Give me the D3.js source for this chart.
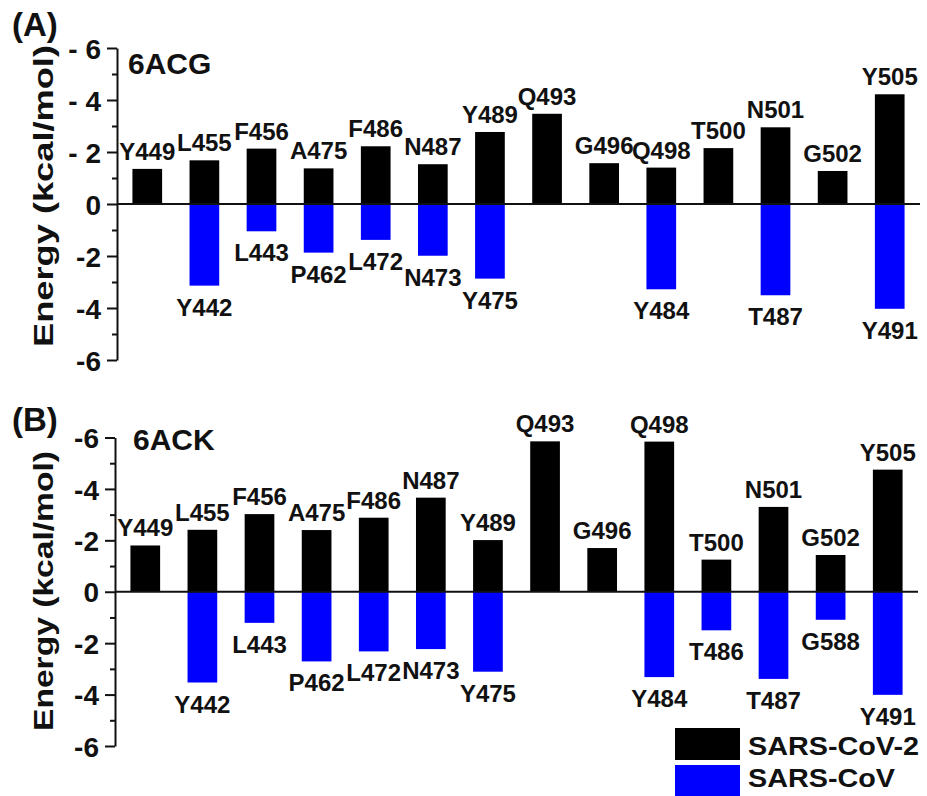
<!DOCTYPE html>
<html>
<head>
<meta charset="utf-8">
<script src="https://cdn.jsdelivr.net/npm/d3@7"></script>
<style>
  body { margin: 0; background: #fff; }
  text { font-family: "Liberation Sans", Arial, sans-serif; font-weight: bold; fill: #111; }
</style>
</head>
<body>
<svg id="chart"></svg>
<script>
// residues of SARS-CoV-2 (same order in both panels)
const residues = ["Y449","L455","F456","A475","F486","N487","Y489","Q493","G496","Q498","T500","N501","G502","Y505"];

// panel A, 6ACG
const acgCov2 = [1.35, 1.68, 2.13, 1.37, 2.22, 1.53, 2.77, 3.47, 1.57, 1.40, 2.15, 2.95, 1.27, 4.22];
const acgCovRes = [null, "Y442", "L443", "P462", "L472", "N473", "Y475", null, null, "Y484", null, "T487", null, "Y491"];
const acgCov = [null, -3.14, -1.05, -1.87, -1.38, -1.99, -2.87, null, null, -3.28, null, -3.51, null, -4.03];

// panel B, 6ACK
const ackCov2 = [1.80, 2.41, 3.02, 2.40, 2.88, 3.66, 2.01, 5.85, 1.70, 5.84, 1.25, 3.30, 1.43, 4.75];
const ackCovRes = [null, "Y442", "L443", "P462", "L472", "N473", "Y475", null, null, "Y484", "T486", "T487", "G588", "Y491"];
const ackCov = [null, -3.53, -1.21, -2.71, -2.32, -2.23, -3.11, null, null, -3.32, -1.50, -3.39, -1.09, -4.01];

// tick labels as printed in the figure
const tickValues = [6, 4, 2, 0, -2, -4, -6];
const acgTickLabels = ["- 6", "- 4", "- 2", "0", "-2", "-4", "-6"];
const ackTickLabels = ["-6", "-4", "-2", "0", "-2", "-4", "-6"];

const seriesNames = ["SARS-CoV-2", "SARS-CoV"];
const seriesColors = ["#000000", "#0000ff"];

const width = 927, height = 796;
const svg = d3.select("#chart").attr("width", width).attr("height", height);

function drawPanel(p) {
    const g = svg.append("g");

    const x = d3.scaleBand()
        .domain(residues)
        .range([p.left, p.right])
        .paddingInner(0.48)
        .paddingOuter(0.27);

    const y = d3.scaleLinear()
        .domain([-6, 6])
        .range([p.bottom, p.top]);

    // minor ticks
    g.append("g")
        .attr("transform", `translate(${p.left},0)`)
        .call(d3.axisLeft(y).tickValues([5, 3, 1, -1, -3, -5]).tickSize(5).tickFormat(""))
        .call(a => a.select(".domain").remove())
        .selectAll("line").attr("stroke", "#111").attr("stroke-width", 2);

    // major ticks + labels
    const axis = g.append("g")
        .attr("transform", `translate(${p.left},0)`)
        .call(d3.axisLeft(y)
            .tickValues(tickValues)
            .tickSize(10)
            .tickSizeOuter(0)
            .tickPadding(6)
            .tickFormat((d, i) => p.tickLabels[i]));
    axis.select(".domain").attr("stroke", "#111").attr("stroke-width", 2);
    axis.selectAll(".tick line").attr("stroke", "#111").attr("stroke-width", 2);
    axis.selectAll(".tick text")
        .style("font-size", "28px")
        .attr("fill", "#111")
        .attr("dy", "0.36em");

    // SARS-CoV bars (down)
    const idx = d3.range(residues.length);
    g.selectAll(".cov")
        .data(idx.filter(i => p.cov[i] != null))
        .enter().append("rect")
        .attr("x", i => x(residues[i]))
        .attr("y", y(0))
        .attr("width", x.bandwidth())
        .attr("height", i => y(p.cov[i]) - y(0))
        .attr("fill", seriesColors[1]);

    // SARS-CoV-2 bars (up)
    g.selectAll(".cov2")
        .data(idx)
        .enter().append("rect")
        .attr("x", i => x(residues[i]))
        .attr("y", i => y(p.cov2[i]))
        .attr("width", x.bandwidth())
        .attr("height", i => y(0) - y(p.cov2[i]))
        .attr("fill", seriesColors[0]);

    // zero line
    g.append("line")
        .attr("x1", p.left).attr("x2", p.right)
        .attr("y1", y(0)).attr("y2", y(0))
        .attr("stroke", "#111").attr("stroke-width", 2);

    // residue labels
    g.selectAll(".lab2")
        .data(idx)
        .enter().append("text")
        .attr("x", i => x(residues[i]) + x.bandwidth() / 2)
        .attr("y", i => y(p.cov2[i]) - 9)
        .attr("text-anchor", "middle")
        .style("font-size", "24px")
        .text(i => residues[i]);

    g.selectAll(".lab1")
        .data(idx.filter(i => p.cov[i] != null))
        .enter().append("text")
        .attr("x", i => x(residues[i]) + x.bandwidth() / 2)
        .attr("y", i => y(p.cov[i]) + 30)
        .attr("text-anchor", "middle")
        .style("font-size", "24px")
        .text(i => p.covRes[i]);

    // y title
    g.append("text")
        .attr("transform", `translate(53,${p.titleY}) rotate(-90)`)
        .attr("text-anchor", "middle")
        .attr("textLength", p.titleLen)
        .attr("lengthAdjust", "spacingAndGlyphs")
        .style("font-size", "28px")
        .text("Energy (kcal/mol)");

    // panel letter and pdb id
    g.append("text")
        .attr("x", 12).attr("y", p.letterY)
        .style("font-size", "33px")
        .text(p.letter);
    g.append("text")
        .attr("x", p.idX).attr("y", p.idY)
        .style("font-size", "30px")
        .text(p.id);
}

drawPanel({
    left: 117, right: 920, top: 48, bottom: 360,
    cov2: acgCov2, cov: acgCov, covRes: acgCovRes,
    tickLabels: acgTickLabels,
    titleY: 196, titleLen: 302,
    letter: "(A)", letterY: 36, id: "6ACG", idX: 128, idY: 74
});

drawPanel({
    left: 115, right: 918, top: 437.5, bottom: 746,
    cov2: ackCov2, cov: ackCov, covRes: ackCovRes,
    tickLabels: ackTickLabels,
    titleY: 591, titleLen: 280,
    letter: "(B)", letterY: 431, id: "6ACK", idX: 133, idY: 450
});

// legend
const legend = svg.append("g").attr("transform", "translate(675,728)");
seriesNames.forEach((name, i) => {
    legend.append("rect")
        .attr("x", 0).attr("y", i * 37)
        .attr("width", 65).attr("height", 32)
        .attr("fill", seriesColors[i]);
    legend.append("text")
        .attr("x", 73).attr("y", i * 32 + 27)
        .attr("textLength", i === 0 ? 171 : 147)
        .attr("lengthAdjust", "spacingAndGlyphs")
        .style("font-size", "26px")
        .text(name);
});
</script>
</body>
</html>
